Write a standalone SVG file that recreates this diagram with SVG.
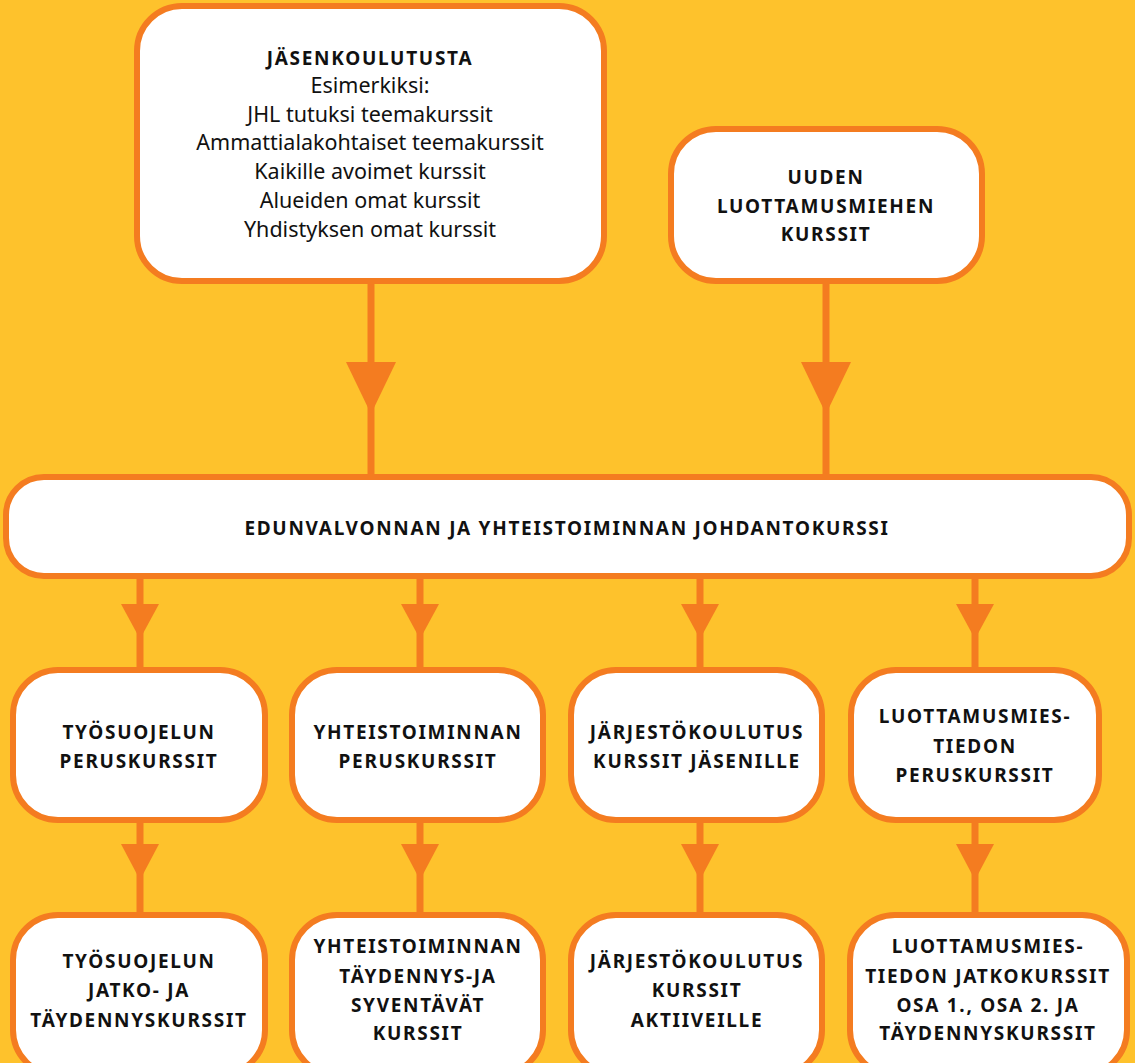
<svg xmlns="http://www.w3.org/2000/svg" width="1135" height="1063" viewBox="0 0 1135 1063">
<style>
.box{fill:#FFFFFF;stroke:#F47C20;stroke-width:6}
.ln{stroke:#F47C20;stroke-width:7;fill:none}
.ah{fill:#F47C20}
.b{font-family:"Noto Sans","DejaVu Sans",sans-serif;font-weight:bold;font-size:19px;letter-spacing:1.7px;fill:#111;text-anchor:middle}
.r{font-family:"Noto Sans","DejaVu Sans",sans-serif;font-size:21.5px;fill:#111;text-anchor:middle}
</style>
<rect x="0" y="0" width="1135" height="1063" fill="#FEC22C"/>
<g id="connectors">
<line class="ln" x1="371" y1="281" x2="371" y2="477"/>
<polygon class="ah" points="346,362 396,362 371,414"/>
<line class="ln" x1="826" y1="281" x2="826" y2="477"/>
<polygon class="ah" points="801,362 851,362 826,414"/>
<line class="ln" x1="140" y1="576" x2="140" y2="670"/>
<polygon class="ah" points="121,604 159,604 140,639"/>
<line class="ln" x1="420" y1="576" x2="420" y2="670"/>
<polygon class="ah" points="401,604 439,604 420,639"/>
<line class="ln" x1="700" y1="576" x2="700" y2="670"/>
<polygon class="ah" points="681,604 719,604 700,639"/>
<line class="ln" x1="975" y1="576" x2="975" y2="670"/>
<polygon class="ah" points="956,604 994,604 975,639"/>
<line class="ln" x1="140" y1="820" x2="140" y2="915"/>
<polygon class="ah" points="121,844 159,844 140,880"/>
<line class="ln" x1="420" y1="820" x2="420" y2="915"/>
<polygon class="ah" points="401,844 439,844 420,880"/>
<line class="ln" x1="700" y1="820" x2="700" y2="915"/>
<polygon class="ah" points="681,844 719,844 700,880"/>
<line class="ln" x1="975" y1="820" x2="975" y2="915"/>
<polygon class="ah" points="956,844 994,844 975,880"/>
</g>
<g id="jasenkoulutusta">
<rect class="box" x="137" y="6" width="467" height="275" rx="45"/>
<text class="b" x="370" y="65">JÄSENKOULUTUSTA</text>
<text class="r" x="370" y="93">Esimerkiksi:</text>
<text class="r" x="370" y="122">JHL tutuksi teemakurssit</text>
<text class="r" x="370" y="150">Ammattialakohtaiset teemakurssit</text>
<text class="r" x="370" y="179">Kaikille avoimet kurssit</text>
<text class="r" x="370" y="208">Alueiden omat kurssit</text>
<text class="r" x="370" y="237">Yhdistyksen omat kurssit</text>
</g>
<g id="uuden-luottamusmiehen">
<rect class="box" x="671" y="129" width="311" height="152" rx="45"/>
<text class="b" x="826" y="184">UUDEN</text>
<text class="b" x="826" y="213">LUOTTAMUSMIEHEN</text>
<text class="b" x="826" y="241">KURSSIT</text>
</g>
<g id="johdantokurssi">
<rect class="box" x="6" y="477" width="1123" height="99" rx="38"/>
<text class="b" x="567" y="535">EDUNVALVONNAN JA YHTEISTOIMINNAN JOHDANTOKURSSI</text>
</g>
<g id="tyosuojelun-perus">
<rect class="box" x="13" y="670" width="252" height="150" rx="45"/>
<text class="b" x="139" y="739">TYÖSUOJELUN</text>
<text class="b" x="139" y="768">PERUSKURSSIT</text>
</g>
<g id="yhteistoiminnan-perus">
<rect class="box" x="292" y="670" width="251" height="150" rx="45"/>
<text class="b" x="418" y="739">YHTEISTOIMINNAN</text>
<text class="b" x="418" y="768">PERUSKURSSIT</text>
</g>
<g id="jarjesto-jasenille">
<rect class="box" x="571" y="670" width="251" height="150" rx="45"/>
<text class="b" x="697" y="739">JÄRJESTÖKOULUTUS</text>
<text class="b" x="697" y="768">KURSSIT JÄSENILLE</text>
</g>
<g id="luottamusmies-perus">
<rect class="box" x="851" y="670" width="248" height="150" rx="45"/>
<text class="b" x="975" y="723">LUOTTAMUSMIES-</text>
<text class="b" x="975" y="753">TIEDON</text>
<text class="b" x="975" y="782">PERUSKURSSIT</text>
</g>
<g id="tyosuojelun-jatko">
<rect class="box" x="13" y="915" width="252" height="160" rx="45"/>
<text class="b" x="139" y="968">TYÖSUOJELUN</text>
<text class="b" x="139" y="997">JATKO- JA</text>
<text class="b" x="139" y="1027">TÄYDENNYSKURSSIT</text>
</g>
<g id="yhteistoiminnan-taydennys">
<rect class="box" x="292" y="915" width="251" height="160" rx="45"/>
<text class="b" x="418" y="953">YHTEISTOIMINNAN</text>
<text class="b" x="418" y="983">TÄYDENNYS-JA</text>
<text class="b" x="418" y="1012">SYVENTÄVÄT</text>
<text class="b" x="418" y="1040">KURSSIT</text>
</g>
<g id="jarjesto-aktiiveille">
<rect class="box" x="571" y="915" width="251" height="160" rx="45"/>
<text class="b" x="697" y="968">JÄRJESTÖKOULUTUS</text>
<text class="b" x="697" y="997">KURSSIT</text>
<text class="b" x="697" y="1027">AKTIIVEILLE</text>
</g>
<g id="luottamusmies-jatko">
<rect class="box" x="850" y="915" width="277" height="160" rx="45"/>
<text class="b" x="988" y="953">LUOTTAMUSMIES-</text>
<text class="b" x="988" y="983">TIEDON JATKOKURSSIT</text>
<text class="b" x="988" y="1012">OSA 1., OSA 2. JA</text>
<text class="b" x="988" y="1040">TÄYDENNYSKURSSIT</text>
</g>
</svg>
